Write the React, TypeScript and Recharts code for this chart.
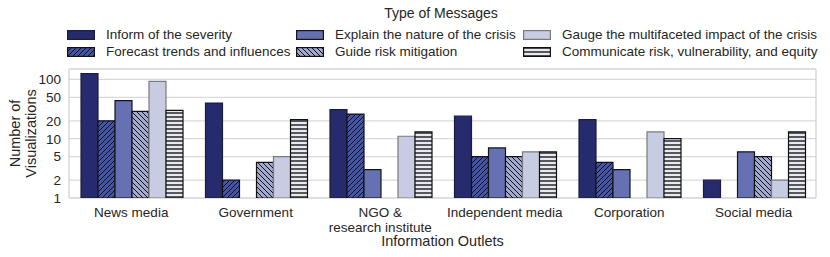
import { BarChart, Bar, XAxis, YAxis, CartesianGrid } from 'recharts'

const outlets = [
  'News media',
  'Government',
  'NGO &\nresearch institute',
  'Independent media',
  'Corporation',
  'Social media',
]

const inform = [125, 40, 31, 24, 21, 2]
const forecast = [20, 2, 26, 5, 4, null]
const explain = [44, null, 3, 7, 3, 6]
const guide = [29, 4, null, 5, null, 5]
const gauge = [93, 5, 11, 6, 13, 2]
const communicate = [30, 21, 13, 6, 10, 13]

const yTicks = [1, 2, 5, 10, 20, 50, 100]

type Hatch = 'none' | 'fwd' | 'back' | 'horiz'

const series: { key: string; name: string; values: (number | null)[]; fill: string; stroke: string; hatch: Hatch }[] = [
  { key: 'inform', name: 'Inform of the severity', values: inform, fill: '#262b6e', stroke: '#1b1d3c', hatch: 'none' },
  { key: 'forecast', name: 'Forecast trends and influences', values: forecast, fill: '#4454a6', stroke: '#111', hatch: 'fwd' },
  { key: 'explain', name: 'Explain the nature of the crisis', values: explain, fill: '#6571b2', stroke: '#151515', hatch: 'none' },
  { key: 'guide', name: 'Guide risk mitigation', values: guide, fill: '#a3aad2', stroke: '#111', hatch: 'back' },
  { key: 'gauge', name: 'Gauge the multifaceted impact of the crisis', values: gauge, fill: '#c8cce3', stroke: '#7a7a7a', hatch: 'none' },
  { key: 'communicate', name: 'Communicate risk, vulnerability, and equity', values: communicate, fill: '#e7e9f3', stroke: '#111', hatch: 'horiz' },
]

const rows = outlets.map((name, i) => {
  const row: Record<string, string | number | null> = { name }
  series.forEach((s) => {
    row[s.key] = s.values[i]
  })
  return row
})

const font = '"Liberation Sans", Arial, sans-serif'

function Pattern({ id, hatch, fill }: { id: string; hatch: Hatch; fill: string }) {
  if (hatch === 'horiz') {
    return (
      <pattern id={id} patternUnits="userSpaceOnUse" width={4} height={4}>
        <rect width={4} height={4} fill={fill} />
        <line x1={0} y1={1} x2={4} y2={1} stroke="#333" strokeWidth={1.6} />
      </pattern>
    )
  }
  const d = hatch === 'fwd' ? 'M-1,1 l2,-2 M0,5 l5,-5 M4,6 l2,-2' : 'M-1,4 l2,2 M0,0 l5,5 M4,-1 l2,2'
  return (
    <pattern id={id} patternUnits="userSpaceOnUse" width={5} height={5}>
      <rect width={5} height={5} fill={fill} />
      <path d={d} stroke="#111" strokeWidth={1} />
    </pattern>
  )
}

const fillFor = (s: (typeof series)[number], prefix: string) =>
  s.hatch === 'none' ? s.fill : `url(#${prefix}-${s.key})`

const OutletTick = (props: any) => {
  const { x, y, payload } = props
  const lines = String(payload.value).split('\n')
  return (
    <text x={x} y={y} textAnchor="middle" fontSize={13.5} fill="#262626" fontFamily={font}>
      {lines.map((l, i) => (
        <tspan key={i} x={x} dy={i === 0 ? 11 : 15}>
          {l}
        </tspan>
      ))}
    </text>
  )
}

const YLabel = (props: any) => {
  const vb = props.viewBox || { x: 0, y: 69, width: 69, height: 129 }
  const cy = vb.y + vb.height / 2
  return (
    <g fontFamily={font} fontSize={14.5} fill="#262626">
      <text x={15} y={cy} textAnchor="middle" dominantBaseline="central" transform={`rotate(-90, 15, ${cy})`}>
        Number of
      </text>
      <text x={31} y={cy} textAnchor="middle" dominantBaseline="central" transform={`rotate(-90, 31, ${cy})`}>
        Visualizations
      </text>
    </g>
  )
}

const XLabel = (props: any) => {
  const vb = props.viewBox || { x: 69, y: 198, width: 747, height: 59 }
  return (
    <text x={vb.x + vb.width / 2} y={vb.y + 43} textAnchor="middle" dominantBaseline="central" fontFamily={font} fontSize={14.5} fill="#262626">
      Information Outlets
    </text>
  )
}

// plot frame: the two edges of the plot area in each direction
const frameRows = ({ offset }: any) => [offset.top, offset.top + offset.height]
const frameCols = ({ offset }: any) => [offset.left, offset.left + offset.width]

const legendCols = [67, 296, 523]
const legendRows = [35, 52]

function LegendBox() {
  return (
    <div style={{ position: 'absolute', left: 0, top: 0, width: 830, height: 62, fontFamily: font, color: '#262626' }}>
      <div style={{ position: 'absolute', left: 341, width: 200, top: 5, textAlign: 'center', fontSize: 14, lineHeight: '16px' }}>
        Type of Messages
      </div>
      {series.map((s, i) => {
        const col = legendCols[Math.floor(i / 2)]
        const rowY = legendRows[i % 2]
        return (
          <div key={s.key}>
            <svg style={{ position: 'absolute', left: col, top: rowY - 5 }} width={28} height={10}>
              <defs>
                {s.hatch !== 'none' && <Pattern id={`lg-${s.key}`} hatch={s.hatch} fill={s.fill} />}
              </defs>
              <rect x={0.6} y={0.6} width={26.8} height={8.8} fill={fillFor(s, 'lg')} stroke={s.stroke} strokeWidth={1.2} />
            </svg>
            <div style={{ position: 'absolute', left: col + 39, top: rowY - 8, fontSize: 13.5, lineHeight: '16px', whiteSpace: 'nowrap' }}>
              {s.name}
            </div>
          </div>
        )
      })}
    </div>
  )
}

export default function App() {
  return (
    <div style={{ position: 'absolute', left: 0, top: 0, width: 830, height: 257, background: '#fff' }}>
      <BarChart
        width={830}
        height={257}
        data={rows}
        margin={{ top: 69, right: 14, left: 0, bottom: 0 }}
        barGap={0}
        barCategoryGap={12}
      >
        <defs>
          {series
            .filter((s) => s.hatch !== 'none')
            .map((s) => (
              <Pattern key={s.key} id={`ch-${s.key}`} hatch={s.hatch} fill={s.fill} />
            ))}
        </defs>
        <CartesianGrid vertical={false} stroke="#d9d9d9" strokeWidth={1.2} />
        <CartesianGrid
          stroke="#cfcfcf"
          strokeWidth={1.2}
          horizontalCoordinatesGenerator={frameRows}
          verticalCoordinatesGenerator={frameCols}
        />
        <XAxis
          dataKey="name"
          tickLine={false}
          axisLine={false}
          height={59}
          interval={0}
          tick={<OutletTick />}
          label={<XLabel />}
        />
        <YAxis
          scale="log"
          domain={[1, 150]}
          allowDataOverflow
          ticks={yTicks}
          interval={0}
          tickLine={false}
          axisLine={false}
          width={69}
          tick={{ fontSize: 13.5, fill: '#262626', fontFamily: font }}
          label={<YLabel />}
        />
        {series.map((s) => (
          <Bar
            key={s.key}
            dataKey={s.key}
            name={s.name}
            fill={fillFor(s, 'ch')}
            stroke={s.stroke}
            strokeWidth={1.2}
            isAnimationActive={false}
          />
        ))}
      </BarChart>
      <LegendBox />
    </div>
  )
}
